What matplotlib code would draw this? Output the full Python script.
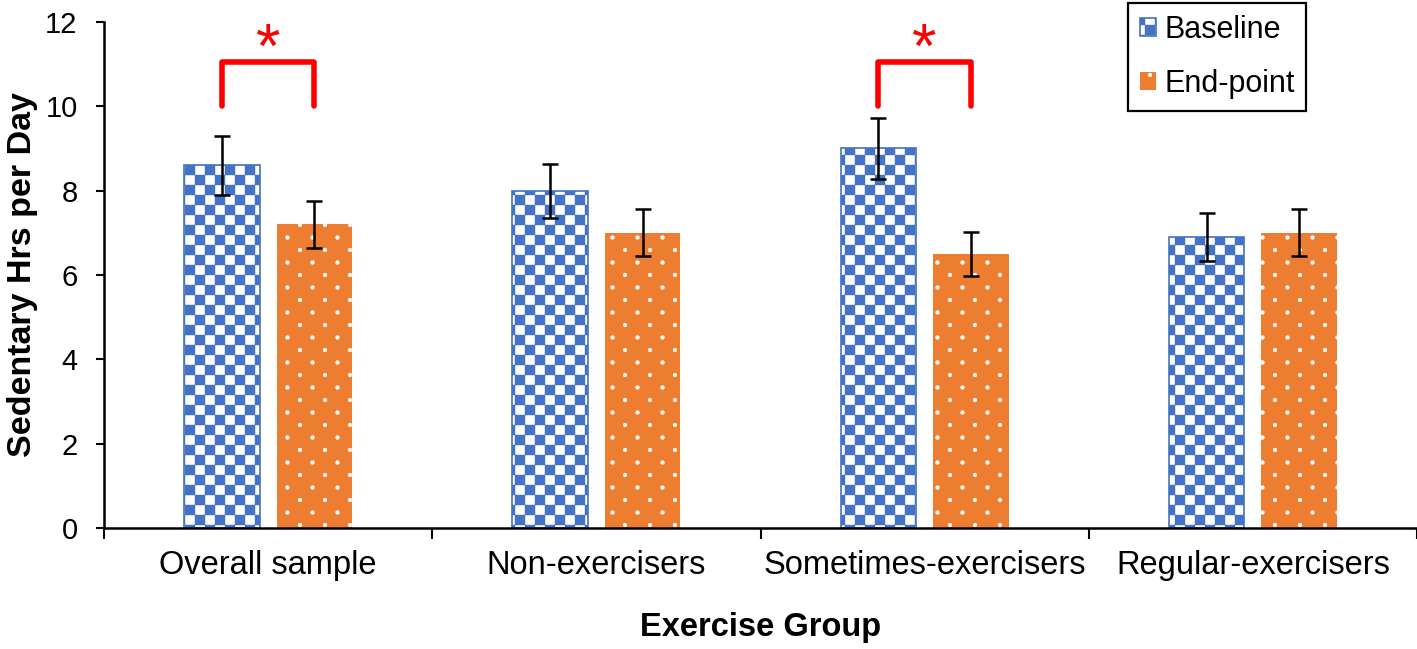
import warnings
import numpy as np
import matplotlib
matplotlib.use('Agg')
import matplotlib.pyplot as plt
import matplotlib.hatch as mhatch
from matplotlib.path import Path

warnings.filterwarnings('ignore')

groups = ['Overall sample', 'Non-exercisers', 'Sometimes-exercisers', 'Regular-exercisers']
baseline = [8.6, 8.0, 9.0, 6.9]
baseline_err = [0.70, 0.64, 0.72, 0.56]
endpoint = [7.2, 7.0, 6.5, 7.0]
endpoint_err = [0.56, 0.56, 0.53, 0.56]
sig_groups = [0, 2]          # groups marked with a * bracket
bracket_lo, bracket_hi = 10.0, 11.05
yticks = [0, 2, 4, 6, 8, 10, 12]

blue = '#4472C4'
orange = '#ED7D31'


# staggered lattice hatches: 'c' -> checkerboard squares, 'd' -> small dots
class LatticeHatch(mhatch.HatchPatternBase):
    def __init__(self, hatch, density):
        self.verts, self.codes = [], []
        if 'c' in hatch:
            n = 10
            h = 0.5 / n
            sq = np.array([[-h, -h], [h, -h], [h, h], [-h, h], [-h, -h]])
            cd = [Path.MOVETO, Path.LINETO, Path.LINETO, Path.LINETO, Path.CLOSEPOLY]
            self._build(n, sq, cd)
        if 'd' in hatch:
            circ = Path.unit_circle()
            self._build(8, circ.vertices * 0.019, circ.codes)
        self.num_vertices = sum(len(v) for v in self.verts)

    def _build(self, n, shape, codes):
        c = 1.0 / n
        for r in range(n + 1):
            for i in range(r % 2, n + 1, 2):
                self.verts.append(shape + [i * c, r * c])
                self.codes.append(np.asarray(codes))

    def set_vertices_and_codes(self, vertices, codes):
        vertices[:] = np.concatenate(self.verts)
        codes[:] = np.concatenate(self.codes)


mhatch._hatch_types.append(LatticeHatch)

plt.rcParams['font.family'] = ['Liberation Sans', 'DejaVu Sans']
plt.rcParams['hatch.linewidth'] = 0.3

fig = plt.figure(figsize=(14.17, 6.49), dpi=100)
ax = fig.add_axes([104 / 1417, 121 / 649, 1313 / 1417, 506 / 649])

x = np.arange(len(groups))
w = 0.23
off = 0.141

ax.bar(x - off, baseline, w, facecolor='white', edgecolor=blue, linewidth=1.2,
       hatch='c', label='Baseline', zorder=2)
ax.bar(x + off, endpoint, w, facecolor=orange, edgecolor='white', linewidth=0,
       hatch='d', label='End-point', zorder=2)
ax.errorbar(x - off, baseline, yerr=baseline_err, fmt='none', ecolor='black',
            elinewidth=1.8, capsize=5.5, capthick=1.8, zorder=3)
ax.errorbar(x + off, endpoint, yerr=endpoint_err, fmt='none', ecolor='black',
            elinewidth=1.8, capsize=5.5, capthick=1.8, zorder=3)

for g in sig_groups:
    ax.plot([g - off, g - off, g + off, g + off],
            [bracket_lo, bracket_hi, bracket_hi, bracket_lo],
            color='#FF0000', lw=4, solid_capstyle='round', solid_joinstyle='round',
            clip_on=False, zorder=4)
    ax.text(g, bracket_hi - 0.12, '*', color='#FF0000', fontsize=45,
            ha='center', va='baseline', clip_on=False)

ax.set_xlim(-0.5, len(groups) - 0.5)
ax.set_ylim(0, 12)
ax.set_yticks(yticks)
ax.set_xticks(x)
ax.set_xticklabels(groups)
ax.set_xticks(np.arange(len(groups) + 1) - 0.5, minor=True)
ax.tick_params(axis='x', which='major', length=0, pad=16, labelsize=23.5)
ax.tick_params(axis='x', which='minor', length=8, width=1.5, direction='out')
ax.tick_params(axis='y', length=6, width=1.5, pad=13, labelsize=21)

for s in ['top', 'right']:
    ax.spines[s].set_visible(False)
for s in ['left', 'bottom']:
    ax.spines[s].set_linewidth(1.8)

ax.set_ylabel('Sedentary Hrs per Day', fontsize=24.5, fontweight='bold')
ax.yaxis.set_label_coords(-0.05, 0.5)
ax.set_xlabel('Exercise Group', fontsize=23.5, fontweight='bold')
ax.xaxis.set_label_coords(0.5, -0.166)

leg = ax.legend(loc='upper right', bbox_to_anchor=(1306 / 1417, 1 - 3 / 649),
                bbox_transform=fig.transFigure, borderaxespad=0, fontsize=22,
                handlelength=0.55, handleheight=0.55, handletextpad=0.25,
                labelspacing=0.8, borderpad=0.38, fancybox=False,
                framealpha=1, edgecolor='black')
leg.get_frame().set_linewidth(1.6)

fig.savefig('out.png', dpi=100)
